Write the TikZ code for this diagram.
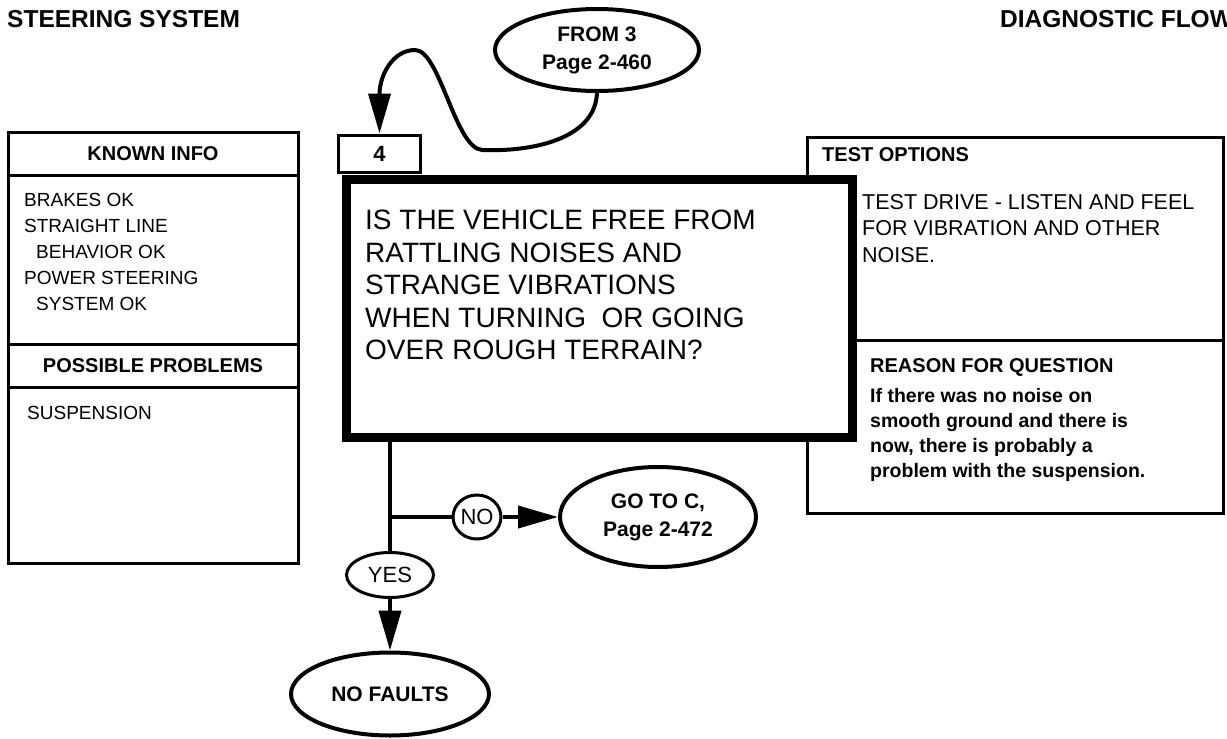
\documentclass[tikz,border=0pt]{standalone}
\usepackage{fontspec}
\setmainfont{Liberation Sans}
\usetikzlibrary{arrows.meta,shapes.geometric}

\tikzset{
  flowline/.style={line width=4pt},
  flowarrow/.style={flowline, -{Triangle[length=40pt,width=22pt]}},
  bubble/.style={draw, ellipse, line width=4pt, inner sep=0pt, align=center,
    font=\fontsize{21}{28}\selectfont\bfseries},
  smallbubble/.style={bubble, line width=3pt, font=\fontsize{22}{25}\selectfont},
  headtext/.style={inner sep=0pt, font=\fontsize{20}{24}\selectfont\bfseries},
  bodytext/.style={inner sep=0pt, anchor=north west, align=left,
    font=\fontsize{19}{26}\selectfont},
  formline/.style={line width=3pt},
  pagetitle/.style={anchor=west, inner sep=0pt, font=\fontsize{24.5}{28}\selectfont\bfseries}
}

\begin{document}
\begin{tikzpicture}[x=1pt,y=-1pt]
  \useasboundingbox (0,0) rectangle (1227,739);

  \node[pagetitle] (title) at (7,19) {STEERING SYSTEM};
  \node[pagetitle] (flowtitle) at (1000,19) {DIAGNOSTIC FLOW};

  \draw[formline] (8,132) rectangle (298,563);
  \draw[formline] (8,175) -- (298,175);
  \draw[formline] (8,344) -- (298,344);
  \draw[formline] (8,387) -- (298,387);
  \node[headtext] (known) at (153,154) {KNOWN INFO};
  \node[bodytext] (knownlist) at (24,193) {BRAKES OK\\STRAIGHT LINE\\\hspace{12pt}BEHAVIOR OK\\POWER STEERING\\\hspace{12pt}SYSTEM OK};
  \node[headtext] (possible) at (153,366) {POSSIBLE PROBLEMS};
  \node[bodytext] (problems) at (27,406) {SUSPENSION};

  \draw[formline] (807,137) rectangle (1223,513);
  \draw[formline] (848,340) -- (1223,340);
  \node[headtext, anchor=west] (testhead) at (822,155) {TEST OPTIONS};
  \node[bodytext, font=\fontsize{21.5}{26.5}\selectfont] (testtext) at (862,194) {TEST DRIVE - LISTEN AND FEEL\\FOR VIBRATION AND OTHER\\NOISE.};
  \node[headtext, anchor=west] (reasonhead) at (870,367) {REASON FOR QUESTION};
  \node[bodytext, font=\fontsize{19.5}{25}\selectfont\bfseries] (reasontext) at (870,388) {If there was no noise on\\smooth ground and there is\\now, there is probably a\\problem with the suspension.};

  \node[draw, line width=3pt, minimum width=82pt, minimum height=37pt, inner sep=0pt, font=\fontsize{22}{26}\selectfont\bfseries] (boxfour) at (379.5,153.5) {4};
  \node[draw, fill=white, line width=9pt, minimum width=506pt, minimum height=258pt, anchor=north west, inner sep=0pt] (qbox) at (341.5,174.5) {};
  \node[anchor=north west, inner sep=0pt, align=left, font=\fontsize{28}{32.5}\selectfont] (question) at (365,210) {IS THE VEHICLE FREE FROM\\RATTLING NOISES AND\\STRANGE VIBRATIONS\\WHEN TURNING\ \ OR GOING\\OVER ROUGH TERRAIN?};

  \node[bubble, minimum width=204pt, minimum height=82pt] (fromthree) at (597,50) {FROM 3\\Page 2-460};
  \draw[flowarrow] (fromthree.south) .. controls (595,140) and (530,152) .. (482,150)
    .. controls (455,148) and (440,50) .. (415,50)
    .. controls (393,50) and (379.5,75) .. (boxfour.north);

  \node[smallbubble, minimum width=87pt, minimum height=45pt] (yes) at (390,575) {YES};
  \node[smallbubble, minimum width=48pt, minimum height=44pt] (no) at (477,517) {NO};
  \node[bubble, minimum width=196pt, minimum height=100pt] (gotoc) at (658,517) {GO TO C,\\Page 2-472};
  \node[bubble, minimum width=198pt, minimum height=83pt] (nofaults) at (390,694) {NO FAULTS};
  \coordinate (split) at (390,517);

  \draw[flowline] (yes.north |- qbox.south) -- (yes.north);
  \draw[flowline] (split) -- (no.west);
  \draw[flowarrow] (no.east) -- (gotoc.west);
  \draw[flowarrow] (yes.south) -- (nofaults.north);
\end{tikzpicture}
\end{document}
